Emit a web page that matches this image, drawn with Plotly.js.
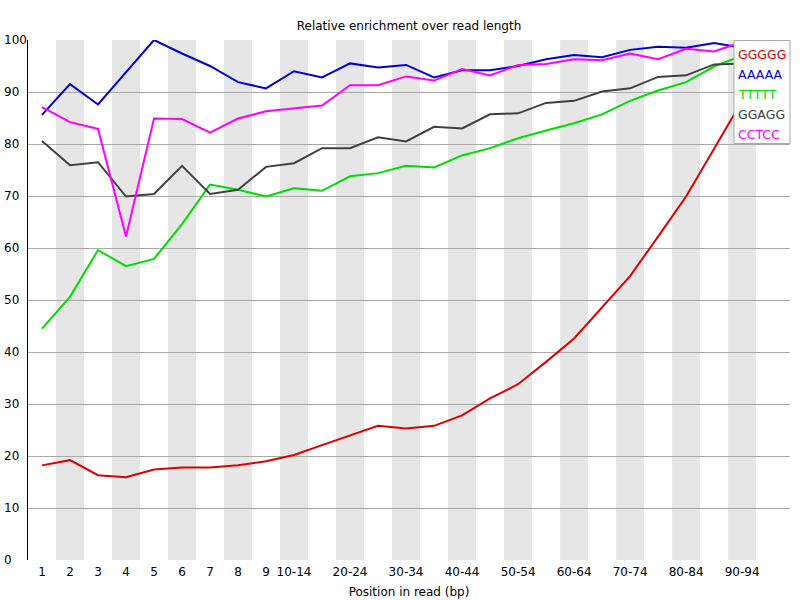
<!DOCTYPE html>
<html>
<head>
<meta charset="utf-8">
<script src="https://cdn.plot.ly/plotly-3.0.1.min.js"></script>
<style>
body{margin:0;background:#fff;}
#plot{width:800px;height:600px;}
</style>
</head>
<body>
<div id="plot"></div>
<script>
// position bins along the read
var positions = ['1','2','3','4','5','6','7','8','9','10-14','15-19','20-24','25-29','30-34','35-39',
	'40-44','45-49','50-54','55-59','60-64','65-69','70-74','75-79','80-84','85-89','90-94','95-99'];
var xTickLabels = ['1','2','3','4','5','6','7','8','9','10-14','20-24','30-34','40-44','50-54',
	'60-64','70-74','80-84','90-94'];
var yTicks = [0,10,20,30,40,50,60,70,80,90,100];

var kmers = ['GGGGG','AAAAA','TTTTT','GGAGG','CCTCC'];
var colors = ['#dc0000','#0000dc','#00dc00','#404040','#ff00ff'];

var ggggg = [18.2,19.2,16.3,15.9,17.4,17.8,17.8,18.2,19.0,20.2,22.1,23.9,25.8,25.3,25.8,27.8,31.1,33.8,38.1,42.6,48.6,54.6,62.2,69.9,79.1,88.3,96.0];
var aaaaa = [85.6,91.5,87.6,93.8,100,97.4,95.0,91.9,90.7,94.0,92.8,95.5,94.7,95.2,92.8,94.2,94.2,95.0,96.3,97.1,96.7,98.1,98.7,98.5,99.4,98.5,99.0];
var ttttt = [44.5,50.6,59.6,56.5,57.9,64.6,72.2,71.2,69.9,71.5,71.0,73.8,74.4,75.8,75.5,77.8,79.2,81.1,82.6,84.0,85.7,88.3,90.3,91.9,94.9,97.0,98.0];
var ggagg = [80.6,75.9,76.5,69.9,70.4,75.8,70.4,71.2,75.6,76.3,79.2,79.2,81.3,80.5,83.3,83.0,85.7,85.9,87.9,88.3,90.1,90.7,92.9,93.2,95.3,95.5,96.0];
var cctcc = [87.1,84.2,82.9,62.2,84.9,84.8,82.2,84.9,86.3,86.9,87.4,91.3,91.3,93.0,92.2,94.4,93.2,95.2,95.4,96.3,96.1,97.4,96.3,98.3,97.8,99.6,100];

var series = [ggggg, aaaaa, ttttt, ggagg, cctcc];

var font = 'DejaVu Sans, sans-serif';

var data = [];
for(var i = 0; i < series.length; i++){
	data.push({
		type: 'scatter',
		mode: 'lines',
		name: kmers[i],
		x: positions,
		y: series[i],
		line: {color: colors[i], width: 2},
		hoverinfo: 'x+y+name'
	});
}

// alternating grey bands behind every other position
var shapes = [];
for(var i = 1; i < positions.length; i += 2){
	shapes.push({
		type: 'rect', layer: 'below',
		xref: 'x', yref: 'paper',
		x0: i - 0.5, x1: i + 0.5, y0: 0, y1: 1,
		fillcolor: '#e6e6e6', line: {width: 0}
	});
}

// legend box, text only, coloured by series
var lx0 = 0.9265, ltop = 0.999, lstep = 20/520;
shapes.push({
	type: 'rect', layer: 'above',
	xref: 'paper', yref: 'paper',
	x0: lx0, x1: 1.0, y0: ltop - 5.15*lstep, y1: ltop,
	fillcolor: '#ffffff', line: {color: '#aaaaaa', width: 1}
});

var annotations = [];
for(var i = 0; i < kmers.length; i++){
	annotations.push({
		xref: 'paper', yref: 'paper',
		x: lx0 + 0.003, y: ltop - (i + 0.72)*lstep,
		xanchor: 'left', yanchor: 'middle',
		text: kmers[i], showarrow: false,
		font: {family: font, size: 12.5, color: colors[i]}
	});
}
// left aligned y tick labels
for(var i = 0; i < yTicks.length; i++){
	annotations.push({
		xref: 'paper', yref: 'y',
		x: -26/762, y: yTicks[i],
		xanchor: 'left', yanchor: 'middle',
		text: String(yTicks[i]), showarrow: false,
		font: {family: font, size: 12, color: '#000'}
	});
}

var layout = {
	width: 800,
	height: 600,
	margin: {l: 28, r: 10, t: 40, b: 40, pad: 0},
	paper_bgcolor: '#ffffff',
	plot_bgcolor: '#ffffff',
	showlegend: false,
	font: {family: font, size: 12, color: '#000'},
	title: {
		text: 'Relative enrichment over read length',
		font: {family: font, size: 12, color: '#000'},
		xref: 'paper', x: 0.5, xanchor: 'center',
		yref: 'container', y: 1 - 26/600, yanchor: 'middle'
	},
	xaxis: {
		type: 'category',
		range: [-0.5, 26.71],
		tickmode: 'array',
		tickvals: xTickLabels,
		ticktext: xTickLabels,
		ticks: '',
		ticklabelstandoff: 3,
		showgrid: false,
		zeroline: false,
		showline: false,
		tickfont: {family: font, size: 12, color: '#000'},
		title: {text: 'Position in read (bp)', font: {family: font, size: 12, color: '#000'}, standoff: 9}
	},
	yaxis: {
		range: [0, 100],
		tickvals: yTicks,
		showticklabels: false,
		ticks: '',
		showgrid: true,
		gridcolor: '#aaaaaa',
		gridwidth: 1,
		zeroline: false,
		showline: true,
		linecolor: '#000000',
		linewidth: 1
	},
	shapes: shapes,
	annotations: annotations
};

Plotly.newPlot('plot', data, layout, {displayModeBar: false, staticPlot: true});
</script>
</body>
</html>
